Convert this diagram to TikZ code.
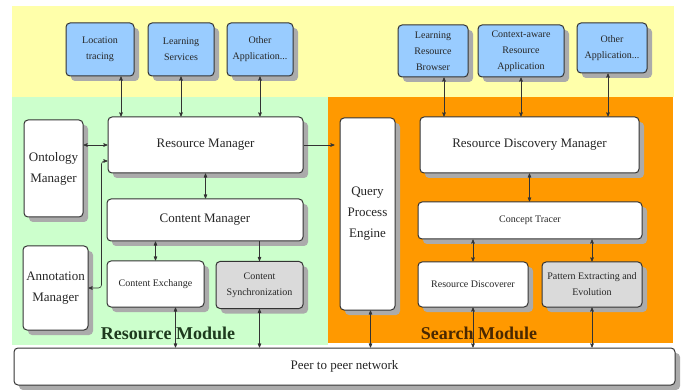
\documentclass[tikz,border=0pt]{standalone}
\usepackage{fontspec}
\setmainfont{Liberation Serif}
\usetikzlibrary{arrows}
\usetikzlibrary{shadows}

\definecolor{bgyellow}{HTML}{FFFFAA}
\definecolor{bggreen}{HTML}{CCFFCC}
\definecolor{bgorange}{HTML}{FF9900}
\definecolor{appblue}{HTML}{99CCFF}
\definecolor{boxgray}{HTML}{DADADA}
\definecolor{edge}{HTML}{333333}
\definecolor{resgreen}{HTML}{1E3A1E}
\definecolor{searchbrown}{HTML}{4A2800}

\tikzset{
  module/.style={draw=edge, line width=1pt, rounded corners=4pt, fill=white,
    align=center, inner sep=2pt, text=black!85,
    drop shadow={shadow xshift=5pt, shadow yshift=-5pt, fill=black!33, draw=none, opacity=1}},
  small/.style={font=\fontsize{10}{16}\selectfont},
  big/.style={font=\fontsize{13}{21}\selectfont},
  app/.style={module, small, fill=appblue},
  link/.style={draw=edge, semithick, <->, >=stealth'},
  modlabel/.style={font=\fontsize{18}{20}\selectfont\bfseries},
}

\begin{document}
\begin{tikzpicture}[x=1pt, y=-1pt]
\useasboundingbox (0,0) rectangle (683,390);
% layers
\fill[bgyellow] (12,6) rectangle (674,97);
\fill[bggreen] (12,97) rectangle (328,345);
\fill[bgorange] (328,97) rectangle (673,343);

% applications
\node[app, minimum width=68pt, minimum height=53pt] (loc) at (100,49.5) {Location\\tracing};
\node[app, minimum width=66pt, minimum height=53pt] (learn) at (181,49.5) {Learning\\Services};
\node[app, minimum width=66pt, minimum height=53pt] (otherL) at (260,49.5) {Other\\Application...};
\node[app, minimum width=70pt, minimum height=52pt] (lrb) at (433,51) {Learning\\Resource\\Browser};
\node[app, minimum width=86pt, minimum height=52pt] (ctx) at (521,51) {Context-aware\\Resource\\Application};
\node[app, minimum width=70pt, minimum height=50pt] (otherR) at (612,48) {Other\\Application...};

% resource module
\node[module, big, minimum width=195pt, minimum height=56pt] (resmgr) at (205.5,145) {Resource Manager};
\node[module, big, minimum width=59pt, minimum height=97pt] (ontology) at (53.5,168.5) {Ontology\\Manager};
\node[module, big, minimum width=65pt, minimum height=84pt] (annotation) at (55.5,288) {Annotation\\Manager};
\node[module, big, minimum width=196pt, minimum height=42pt] (contmgr) at (205,220) {Content Manager};
\node[module, small, minimum width=97pt, minimum height=46pt] (contexch) at (155.5,284) {Content Exchange};
\node[module, small, fill=boxgray, minimum width=87pt, minimum height=47pt] (contsync) at (259.5,285) {Content\\Synchronization};
\node[modlabel, text=resgreen] (resmod) at (168,333) {Resource Module};

% search module
\node[module, big, minimum width=55pt, minimum height=192pt] (qpe) at (367.5,214) {Query\\Process\\Engine};
\node[module, big, minimum width=219pt, minimum height=56pt] (rdm) at (529.5,145) {Resource Discovery Manager};
\node[module, small, minimum width=224pt, minimum height=37pt] (tracer) at (530,220.5) {Concept Tracer};
\node[module, small, minimum width=110pt, minimum height=45pt] (discoverer) at (473,284.5) {Resource Discoverer};
\node[module, small, fill=boxgray, minimum width=100pt, minimum height=45pt] (pattern) at (592,284.5) {Pattern Extracting and\\Evolution};
\node[modlabel, text=searchbrown] (searchmod) at (479,333) {Search Module};

% network
\node[module, big, minimum width=661pt, minimum height=37pt] (p2p) at (344.5,366.5) {Peer to peer network};

% links
\draw[link] ([xshift=21pt]loc.south) -- ([xshift=21pt]loc.south |- resmgr.north);
\foreach \n in {learn, otherL}
  \draw[link] (\n.south) -- (\n.south |- resmgr.north);
\draw[link] ([xshift=11pt]lrb.south) -- ([xshift=11pt]lrb.south |- rdm.north);
\draw[link] (ctx.south) -- (ctx.south |- rdm.north);
\draw[link] ([xshift=-4pt]otherR.south) -- ([xshift=-4pt]otherR.south |- rdm.north);

\draw[link] (resmgr.west -| ontology.east) -- (resmgr.west);
\draw[link, rounded corners=3pt] (annotation.east) -- ++(13,0) |- ([yshift=-16pt]resmgr.west);
\draw[draw=edge, semithick, ->, >=stealth', shorten >=5pt] (resmgr.east) -- (resmgr.east -| qpe.west);

\draw[link] (resmgr.south) -- (resmgr.south |- contmgr.north);
\draw[link] (contexch.north |- contmgr.south) -- (contexch.north);
\draw[draw=edge, semithick, ->, >=stealth'] (contsync.north |- contmgr.south) -- (contsync.north);
\draw[link] ([xshift=20pt]contexch.south) -- ([xshift=20pt]contexch.south |- p2p.north);
\draw[link] ([xshift=3pt]qpe.south) -- ([xshift=3pt]qpe.south |- p2p.north);

\draw[link] (rdm.south) -- (rdm.south |- tracer.north);
\foreach \n in {discoverer, pattern}
  \draw[link] (\n.north |- tracer.south) -- (\n.north);
\foreach \n in {contsync, discoverer, pattern}
  \draw[link] (\n.south) -- (\n.south |- p2p.north);
\end{tikzpicture}
\end{document}
